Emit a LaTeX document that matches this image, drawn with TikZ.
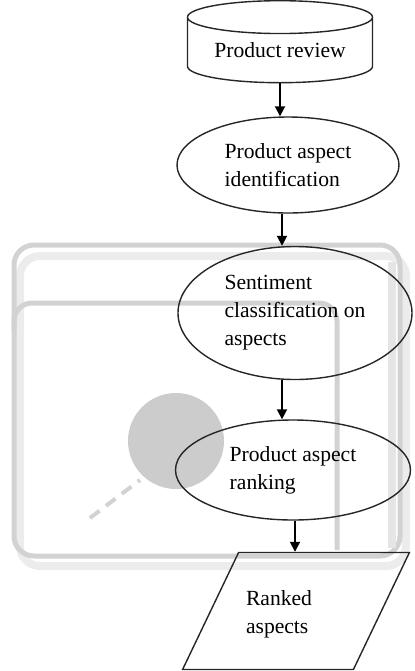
\documentclass[tikz,border=0pt]{standalone}
\usepackage{fontspec}
\setmainfont{Liberation Serif}
\usetikzlibrary{shapes.geometric,arrows.meta}

\tikzset{
  flowbox/.style={draw=black!85, line width=0.7pt, inner sep=0pt,
    font=\fontsize{10.8}{14}\selectfont, align=left},
  stage/.style={flowbox, ellipse},
  flowarrow/.style={line width=0.9pt, -{Triangle[length=5pt,width=5pt]}},
  ghost/.style={gray!35, line width=2.5pt}
}

\begin{document}
\begin{tikzpicture}[x=0.5pt,y=-0.5pt]
  \useasboundingbox (0,0) rectangle (415,671);

  % faint background picture
  \draw[gray!15, line width=4pt, rounded corners=10pt] (20,256) rectangle (406,566);
  \draw[ghost, rounded corners=10pt] (14,245) rectangle (400,556);
  \draw[gray!20, line width=4pt] (392,262) -- (392,548);
  \draw[ghost, rounded corners=9pt] (14,330) -- (14,303) -- (337,303) -- (337,550);
  \fill[gray!40] (176,441) circle (24pt);
  \draw[gray!35, line width=2pt, dash pattern=on 6pt off 4pt] (90,518) -- (140,480);

  % flow
  \node[flowbox, cylinder, shape border rotate=90, aspect=0.25, anchor=north,
        minimum width=92.5pt, minimum height=41pt] (review) at (280,0) {Product review};
  \node[stage, minimum width=111pt, minimum height=48pt] (ident) at (288,165)
       {Product aspect\\identification};
  \node[stage, minimum width=117pt, minimum height=66.5pt] (senti) at (295,313)
       {Sentiment\\classification on\\aspects};
  \node[stage, minimum width=117.5pt, minimum height=50pt] (rank) at (293,470)
       {Product aspect\\ranking};
  \node[flowbox, trapezium, trapezium left angle=64, trapezium right angle=116,
        trapezium stretches=true, inner sep=3pt,
        minimum width=113.5pt, minimum height=58.5pt] (ranked) at (296,611) {};
  \node[font=\fontsize{10.8}{14}\selectfont, align=left] (rankedtxt) at (279,614) {Ranked\\aspects};

  \draw[flowarrow] (review.south) -- (review.south |- ident.north);
  \draw[flowarrow] (ident.south -| 282,0) -- (senti.north -| 282,0);
  \draw[flowarrow] (senti.south -| 282,0) -- (rank.north -| 282,0);
  \draw[flowarrow] (rank.south -| 295,0) -- (ranked.north -| 295,0);
\end{tikzpicture}
\end{document}
